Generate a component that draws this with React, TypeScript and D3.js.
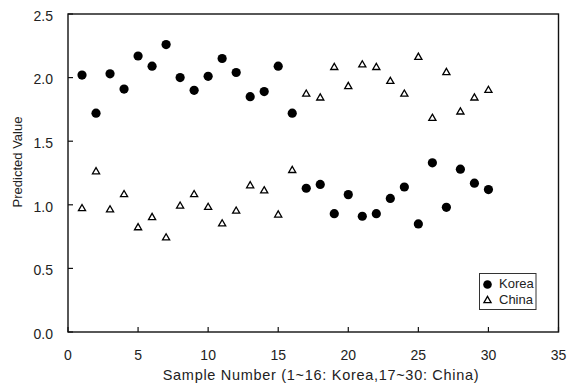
import React from "react";
import * as d3 from "d3";

const koreaSamples = [1,2,3,4,5,6,7,8,9,10,11,12,13,14,15,16];
const chinaSamples = [17,18,19,20,21,22,23,24,25,26,27,28,29,30];

// Korea samples (1–16): predicted Korea (circles) and China (triangles)
const koreaPredKorea = [2.02,1.72,2.03,1.91,2.17,2.09,2.26,2.00,1.90,2.01,2.15,2.04,1.85,1.89,2.09,1.72];
const koreaPredChina = [0.97,1.26,0.96,1.08,0.82,0.90,0.74,0.99,1.08,0.98,0.85,0.95,1.15,1.11,0.92,1.27];
// China samples (17–30)
const chinaPredKorea = [1.13,1.16,0.93,1.08,0.91,0.93,1.05,1.14,0.85,1.33,0.98,1.28,1.17,1.12];
const chinaPredChina = [1.87,1.84,2.08,1.93,2.10,2.08,1.97,1.87,2.16,1.68,2.04,1.73,1.84,1.90];

const xTicks = [0,5,10,15,20,25,30,35];
const yTicks = [0,0.5,1.0,1.5,2.0,2.5];
const legendLabels = ["Korea","China"];
const xTitle = "Sample Number (1~16: Korea,17~30: China)";
const yTitle = "Predicted Value";

const W = 570, H = 384;
const L = 68, R = 558.5, T = 14, B = 332;
const FONT = "'Liberation Sans', Arial, sans-serif";

export default function App() {
  const x = d3.scaleLinear().domain([0, 35]).range([L, R]);
  const y = d3.scaleLinear().domain([0, 2.5]).range([B, T]);
  const tri = d3.symbol().type(d3.symbolTriangle).size(22)()!;

  const circles = [
    ...koreaSamples.map((s, i) => ({ s, v: koreaPredKorea[i] })),
    ...chinaSamples.map((s, i) => ({ s, v: chinaPredKorea[i] })),
  ];
  const triangles = [
    ...koreaSamples.map((s, i) => ({ s, v: koreaPredChina[i] })),
    ...chinaSamples.map((s, i) => ({ s, v: chinaPredChina[i] })),
  ];

  return (
    <svg width={W} height={H} style={{ position: "absolute", left: 0, top: 0, background: "#fff" }} fontFamily={FONT}>
      <rect x={0} y={0} width={W} height={H} fill="#fff" />
      {/* frame */}
      <rect x={L} y={T} width={R - L} height={B - T} fill="none" stroke="#111" strokeWidth={1.4} />
      {/* y ticks */}
      {yTicks.map((t) => (
        <g key={"y" + t}>
          <line x1={L} x2={L + 5} y1={y(t)} y2={y(t)} stroke="#111" strokeWidth={1.2} />
          <text x={53} y={y(t) + 3} textAnchor="end" dominantBaseline="middle" fontSize={14} fill="#222">
            {t.toFixed(1)}
          </text>
        </g>
      ))}
      {/* x ticks */}
      {xTicks.map((t) => (
        <g key={"x" + t}>
          <line x1={x(t)} x2={x(t)} y1={B} y2={B - 5} stroke="#111" strokeWidth={1.2} />
          <text x={x(t)} y={356} textAnchor="middle" dominantBaseline="middle" fontSize={14} fill="#222">
            {t}
          </text>
        </g>
      ))}
      <text x={321} y={380} textAnchor="middle" fontSize={14.5} letterSpacing={0.7} fill="#222">{xTitle}</text>
      <text transform={`translate(19,${162}) rotate(-90)`} textAnchor="middle" dominantBaseline="middle" fontSize={13} fill="#222">{yTitle}</text>

      {/* marks */}
      {circles.map((d) => (
        <circle key={"c" + d.s} cx={x(d.s)} cy={y(d.v)} r={4.6} fill="#000" />
      ))}
      {triangles.map((d) => (
        <path key={"t" + d.s} d={tri} transform={`translate(${x(d.s)},${y(d.v)})`} fill="#fff" stroke="#000" strokeWidth={1.3} />
      ))}

      {/* legend */}
      <rect x={479.5} y={273.5} width={56.5} height={36} fill="#fff" stroke="#333" strokeWidth={1} />
      <circle cx={487.5} cy={284.5} r={4.3} fill="#000" />
      <text x={499} y={285} dominantBaseline="middle" fontSize={13} fill="#222">{legendLabels[0]}</text>
      <path d={tri} transform={`translate(487.5,300.5)`} fill="#fff" stroke="#000" strokeWidth={1.3} />
      <text x={499} y={301} dominantBaseline="middle" fontSize={13} fill="#222">{legendLabels[1]}</text>
    </svg>
  );
}
